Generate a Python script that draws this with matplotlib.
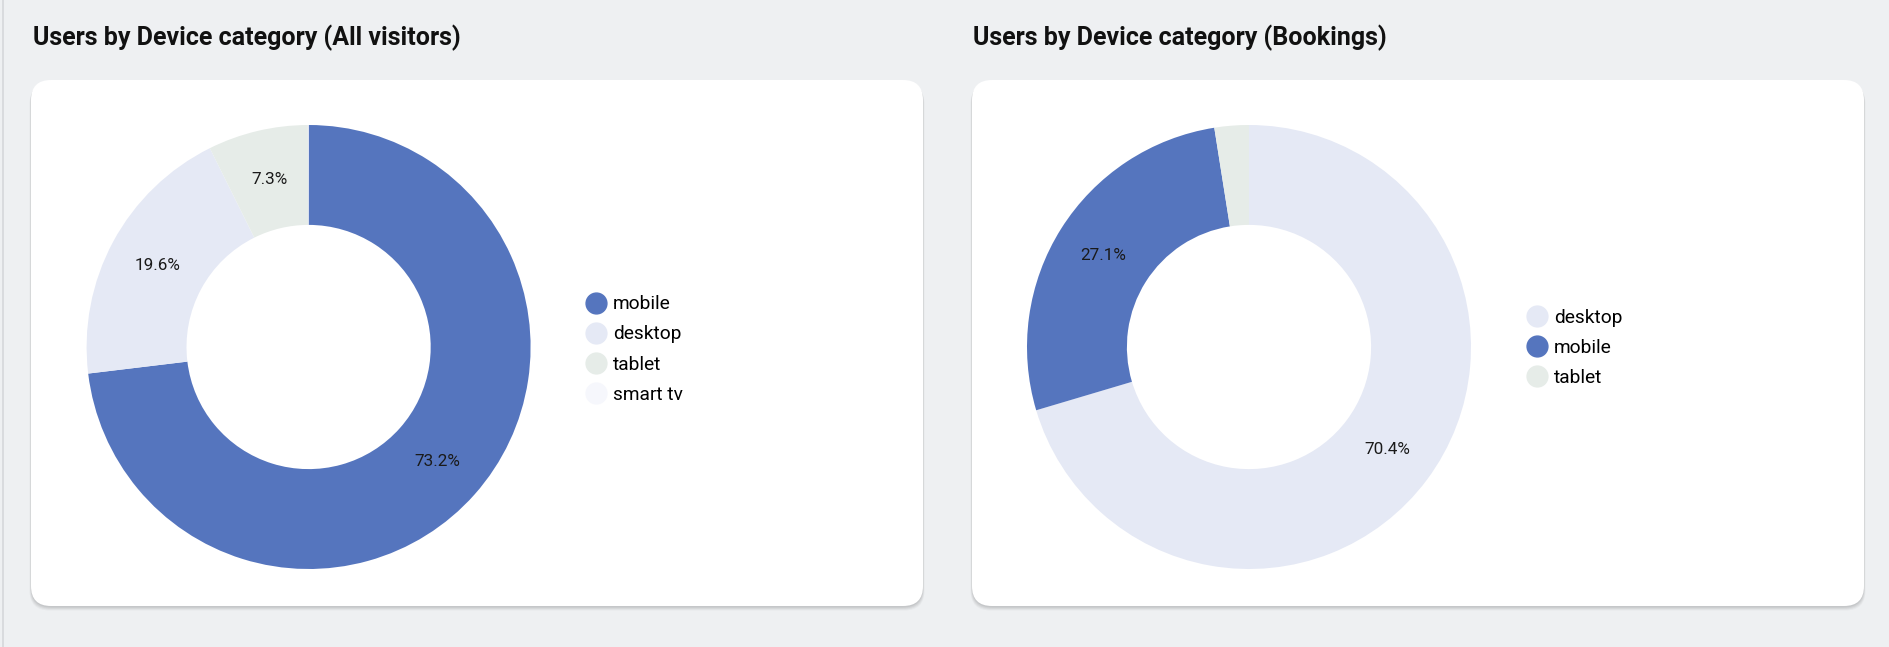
import matplotlib
matplotlib.use("Agg")
import matplotlib.pyplot as plt
from matplotlib.patches import FancyBboxPatch, Rectangle
from matplotlib.lines import Line2D

# ---------------- data ----------------
left_title = "Users by Device category (All visitors)"
left_labels = ["mobile", "desktop", "tablet", "smart tv"]
left_values = [73.2, 19.6, 7.3, 0.05]

right_title = "Users by Device category (Bookings)"
right_labels = ["desktop", "mobile", "tablet"]
right_values = [70.4, 27.1, 2.5]

colors = {
    "mobile": "#5575be",
    "desktop": "#e5e9f5",
    "tablet": "#e6ece8",
    "smart tv": "#f6f7fc",
}

# ---------------- layout ----------------
W, H = 1890, 647
DPI = 100
plt.rcParams["font.family"] = ["Roboto", "DejaVu Sans"]

fig = plt.figure(figsize=(W / DPI, H / DPI), dpi=DPI)
fig.patch.set_facecolor("#eef0f2")

bg = fig.add_axes([0, 0, 1, 1])
bg.set_xlim(0, W)
bg.set_ylim(H, 0)
bg.axis("off")

# thin left border line
bg.add_patch(Rectangle((2, 0), 1.5, H, color="#d9dbde", lw=0))

cards = [(31, 80, 892, 526), (972, 80, 892, 526)]
for (x, y, w, h) in cards:
    for i, a in enumerate([0.05, 0.05, 0.04, 0.03]):
        bg.add_patch(FancyBboxPatch((x - 0.5 * i, y + 1 + i), w + i, h + 0.5,
                                    boxstyle="round,pad=0,rounding_size=20",
                                    fc="#000000", ec="none", alpha=a))
    bg.add_patch(FancyBboxPatch((x, y), w, h,
                                boxstyle="round,pad=0,rounding_size=20",
                                fc="white", ec="none"))

bg.text(33, 38, left_title, fontsize=18, fontweight="bold", color="#111111",
        va="center", ha="left")
bg.text(973, 38, right_title, fontsize=18, fontweight="bold", color="#111111",
        va="center", ha="left")


def donut(cx, cy, R, labels, values, legend_x, legend_cy):
    ax = fig.add_axes([(cx - R) / W, (H - cy - R) / H, 2 * R / W, 2 * R / H])
    cols = [colors[l] for l in labels]
    wedges, texts, autotexts = ax.pie(
        values, colors=cols, startangle=90, counterclock=False,
        radius=1.0, wedgeprops=dict(width=0.45, linewidth=0),
        autopct="%1.1f%%", pctdistance=0.775,
        textprops=dict(fontsize=12.3, color="#1a1a1a"))
    for t, v in zip(autotexts, values):
        t.set_text(f"{v:.1f}%" if v >= 5 else "")
    ax.set_xlim(-1, 1)
    ax.set_ylim(-1, 1)
    ax.set_aspect("equal")
    ax.axis("off")

    handles = [Line2D([], [], marker="o", linestyle="none", markersize=15,
                      markerfacecolor=c, markeredgecolor=c) for c in cols]
    fig.legend(handles, labels, loc="center left",
               bbox_to_anchor=(legend_x / W, 1 - legend_cy / H),
               frameon=False, fontsize=13.8, handlelength=0.8,
               handletextpad=0.46, labelspacing=0.63, borderpad=0,
               borderaxespad=0)


donut(308.6, 347, 222, left_labels, left_values, 588.8, 349.5)
donut(1249, 347, 222, right_labels, right_values, 1529.8, 348)

fig.savefig("out.png", dpi=DPI, facecolor=fig.get_facecolor())
